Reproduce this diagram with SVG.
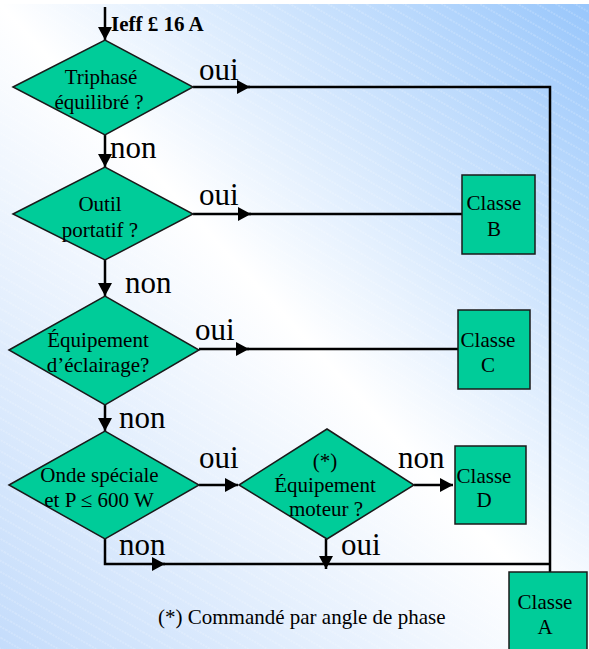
<svg xmlns="http://www.w3.org/2000/svg" width="589" height="649" viewBox="0 0 589 649">
<defs>
<linearGradient id="bg" x1="1" y1="0" x2="0" y2="1">
<stop offset="0" stop-color="#98c6fb"/>
<stop offset="0.5" stop-color="#ffffff"/>
<stop offset="1" stop-color="#c4dcfb"/>
</linearGradient>
<pattern id="hatch" width="40" height="9.5" patternUnits="userSpaceOnUse" patternTransform="rotate(30)">
<line x1="0" y1="1" x2="40" y2="1" stroke="#ffffff" stroke-opacity="0.35" stroke-width="1" stroke-dasharray="2 1"/>
</pattern>
<marker id="arr" markerUnits="userSpaceOnUse" markerWidth="14" markerHeight="14" refX="13" refY="7" orient="auto">
<path d="M0,0 L13,7 L0,14 z" fill="#000"/>
</marker>
<style>
.shape{fill:#00cc99;stroke:#1a1a1a;stroke-width:1.5}
.t{font-family:"Liberation Serif","Times New Roman",serif;font-size:21px;fill:#000}
.c{text-anchor:middle}
.lbl{font-family:"Liberation Serif","Times New Roman",serif;font-size:31px;fill:#000}
.conn{fill:none;stroke:#000;stroke-width:2.5}
</style>
</defs>
<rect width="589" height="649" fill="#ffffff"/>
<rect y="4" width="589" height="645" fill="url(#bg)"/>
<rect y="4" width="589" height="645" fill="url(#hatch)"/>

<g id="connectors">
<path class="conn" d="M105,7 V40" marker-end="url(#arr)"/>
<path class="conn" d="M193,87 H250" marker-end="url(#arr)"/>
<path class="conn" d="M248,87 H550 V572"/>
<path class="conn" d="M105,135 V167" marker-end="url(#arr)"/>
<path class="conn" d="M193,214 H251" marker-end="url(#arr)"/>
<path class="conn" d="M249,214 H462"/>
<path class="conn" d="M105,260 V296" marker-end="url(#arr)"/>
<path class="conn" d="M199,349 H249" marker-end="url(#arr)"/>
<path class="conn" d="M247,349 H458"/>
<path class="conn" d="M105,405 V431" marker-end="url(#arr)"/>
<path class="conn" d="M199,485 H238" marker-end="url(#arr)"/>
<path class="conn" d="M414,485 H453" marker-end="url(#arr)"/>
<path class="conn" d="M326,539 V569" marker-end="url(#arr)"/>
<path class="conn" d="M105,539 V564 H165" marker-end="url(#arr)"/>
<path class="conn" d="M163,564 H551"/>
</g>

<g id="labels">
<text x="111" y="31" class="t" font-weight="bold">Ieff £ 16 A</text>
<text x="199" y="80" class="lbl">oui</text>
<text x="110" y="158" class="lbl">non</text>
<text x="199" y="205" class="lbl">oui</text>
<text x="125" y="293" class="lbl">non</text>
<text x="195" y="340" class="lbl">oui</text>
<text x="119" y="428" class="lbl">non</text>
<text x="199" y="468" class="lbl">oui</text>
<text x="398" y="468" class="lbl">non</text>
<text x="341" y="555" class="lbl">oui</text>
<text x="119" y="555" class="lbl">non</text>
<text x="158" y="624" class="t">(*) Commandé par angle de phase</text>
</g>

<g id="d1">
<polygon class="shape" points="13,87 105,40 193,87 105,135"/>
<text class="t c" x="101" y="84">Triphasé</text>
<text class="t c" x="99" y="109">équilibré ?</text>
</g>
<g id="d2">
<polygon class="shape" points="13,214 105,167 193,214 105,260"/>
<text class="t c" x="100" y="211">Outil</text>
<text class="t c" x="100" y="237">portatif ?</text>
</g>
<g id="d3">
<polygon class="shape" points="9,350 105,296 199,350 105,405"/>
<text class="t c" x="98" y="347">Équipement</text>
<text class="t c" x="98" y="372">d’éclairage?</text>
</g>
<g id="d4">
<polygon class="shape" points="9,485 105,431 199,485 105,539"/>
<text class="t c" x="99.5" y="482">Onde spéciale</text>
<text class="t c" x="99" y="507">et P ≤ 600 W</text>
</g>
<g id="d5">
<polygon class="shape" points="239,485 327,429 414,485 327,539"/>
<text class="t c" x="325" y="468">(*)</text>
<text class="t c" x="325" y="492">Équipement</text>
<text class="t c" x="326" y="516">moteur ?</text>
</g>
<g id="classeB">
<rect class="shape" x="462" y="175" width="73" height="79"/>
<text class="t c" x="494" y="210">Classe</text>
<text class="t c" x="494" y="236">B</text>
</g>
<g id="classeC">
<rect class="shape" x="458" y="310" width="72" height="79"/>
<text class="t c" x="488" y="347">Classe</text>
<text class="t c" x="488" y="372">C</text>
</g>
<g id="classeD">
<rect class="shape" x="455" y="446" width="71" height="78"/>
<text class="t c" x="484" y="483">Classe</text>
<text class="t c" x="484" y="507">D</text>
</g>
<g id="classeA">
<rect class="shape" x="509" y="572" width="78" height="82"/>
<text class="t c" x="545" y="609">Classe</text>
<text class="t c" x="545" y="634">A</text>
</g>
</svg>
